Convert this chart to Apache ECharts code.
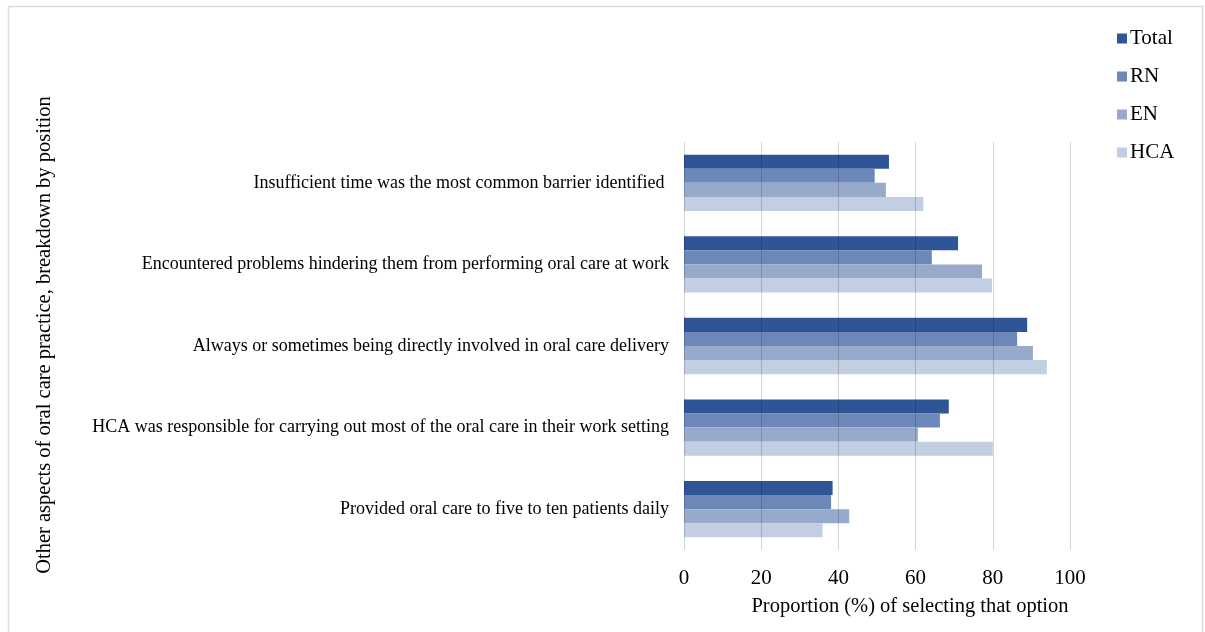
<!DOCTYPE html>
<html>
<head>
<meta charset="utf-8">
<title>Oral care practice by position</title>
<script src="https://cdn.jsdelivr.net/npm/echarts@6/dist/echarts.min.js"></script>
<style>
  html, body { margin: 0; padding: 0; background: #ffffff; }
  #chart { width: 1205px; height: 632px; }
</style>
</head>
<body>
<div id="chart"></div>
<script>
// Survey items, listed top to bottom
const categories = [
  'Insufficient time was the most common barrier identified ',
  'Encountered problems hindering them from performing oral care at work',
  'Always or sometimes being directly involved in oral care delivery',
  'HCA was responsible for carrying out most of the oral care in their work setting',
  'Provided oral care to five to ten patients daily'
];

// Proportion (%) of respondents selecting each option
const totalValues = [53.1, 71.0, 88.9, 68.6, 38.5];
const rnValues    = [49.4, 64.2, 86.3, 66.3, 38.1];
const enValues    = [52.3, 77.2, 90.4, 60.6, 42.8];
const hcaValues   = [62.0, 79.8, 94.0, 80.0, 35.9];

const seriesNames = ['Total', 'RN', 'EN', 'HCA'];
const xTicks = [0, 20, 40, 60, 80, 100];

const colors = ['#2F5597', '#6D87B8', '#97AACB', '#C2CEE2'];
const serif = '"Liberation Serif", "Times New Roman", serif';

const chart = echarts.init(document.getElementById('chart'), null, { renderer: 'canvas' });

const seriesData = [totalValues, rnValues, enValues, hcaValues];

chart.setOption({
  animation: false,
  backgroundColor: '#ffffff',
  color: colors,
  textStyle: { fontFamily: serif },
  grid: { left: 684, right: 135, top: 142, bottom: 82, containLabel: false },
  legend: {
    orient: 'vertical',
    left: 1112,
    top: 23,
    icon: 'rect',
    itemWidth: 10,
    itemHeight: 10,
    itemGap: 17,
    data: seriesNames,
    textStyle: { fontFamily: serif, fontSize: 21, color: '#000', lineHeight: 18, padding: [0, 0, 0, -2] }
  },
  xAxis: {
    type: 'value',
    min: xTicks[0],
    max: xTicks[xTicks.length - 1],
    interval: xTicks[1] - xTicks[0],
    z: 3,
    axisLine: { show: false },
    axisTick: { show: false },
    axisLabel: { fontFamily: serif, fontSize: 21, color: '#000', margin: 18 },
    splitLine: { show: true, lineStyle: { color: 'rgba(0,0,0,0.17)', width: 1 } }
  },
  yAxis: {
    type: 'category',
    inverse: true,
    data: categories,
    axisLine: { show: false },
    axisTick: { show: false },
    axisLabel: { fontFamily: serif, fontSize: 18, color: '#000', margin: 15 }
  },
  series: seriesNames.map((name, i) => ({
    name: name,
    type: 'bar',
    data: seriesData[i],
    barGap: '0%',
    barCategoryGap: '31%',
    itemStyle: { color: colors[i] }
  })),
  graphic: [
    {
      type: 'rect',
      silent: true,
      shape: { x: 8.5, y: 6.5, width: 1194, height: 640 },
      style: { fill: 'none', stroke: '#DCDCDC', lineWidth: 1.5 }
    },
    {
      type: 'text',
      x: 45,
      y: 335,
      rotation: Math.PI / 2,
      style: {
        text: 'Other aspects of oral care practice, breakdown by position',
        fontFamily: serif,
        fontSize: 20.5,
        fill: '#000',
        align: 'center',
        verticalAlign: 'middle'
      }
    },
    {
      type: 'text',
      x: 910,
      y: 607,
      style: {
        text: 'Proportion (%) of selecting that option',
        fontFamily: serif,
        fontSize: 20.5,
        fill: '#000',
        align: 'center',
        verticalAlign: 'middle'
      }
    }
  ]
});
</script>
</body>
</html>
